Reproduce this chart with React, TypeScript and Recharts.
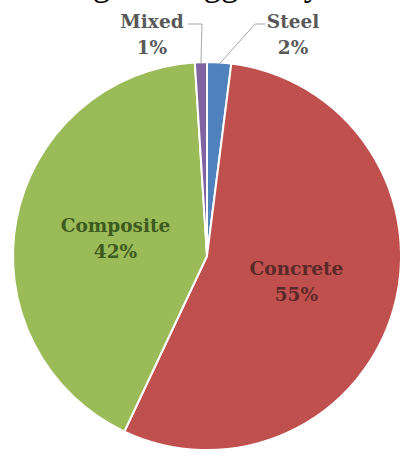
import { PieChart, Pie, Cell } from 'recharts'

document.body.style.margin = '0'

const materials = ['Steel', 'Concrete', 'Composite', 'Mixed']
const shares = [2, 55, 42, 1]
const colors = ['#4f81bd', '#c0504d', '#9bbb59', '#8064a2']
const labelColors = ['#595959', '#5a2a28', '#3d5a1f', '#595959']
const title = 'Tall Buildings of Biggest by Material'

const data = materials.map((name, i) => ({ name, value: shares[i] }))

const RADIAN = Math.PI / 180
const FONT = '"DejaVu Serif", serif'

// outside label placement: elbow offset from slice edge, then a short horizontal run
const outside: Record<string, { dx: number; run: number; gap: number }> = {
  Steel: { dx: 36, run: 10, gap: 28 },
  Mixed: { dx: 1, run: -14, gap: -36 },
}

function renderLabel(props: any) {
  const { cx, cy, midAngle, outerRadius, percent, name, index } = props
  const pct = `${Math.round(percent * 100)}%`
  const color = labelColors[index]
  const cos = Math.cos(-midAngle * RADIAN)
  const sin = Math.sin(-midAngle * RADIAN)
  const o = outside[name]
  if (!o) {
    const r = outerRadius * 0.48
    const x = cx + r * cos
    const y = cy + r * sin
    return (
      <text x={x} textAnchor="middle" fill={color} fontFamily={FONT} fontWeight="bold" fontSize={18.5}>
        <tspan x={x} y={y - 7}>{name}</tspan>
        <tspan x={x} y={y + 19}>{pct}</tspan>
      </text>
    )
  }
  const x0 = cx + (outerRadius - 2) * cos
  const y0 = cy + (outerRadius - 2) * sin
  const ey = cy - outerRadius - 38
  const ex = x0 + o.dx
  const hx = ex + o.run
  const tx = hx + o.gap
  return (
    <g>
      <polyline points={`${x0},${y0} ${ex},${ey} ${hx},${ey}`} fill="none" stroke="#a6a6a6" strokeWidth={1} />
      <text x={tx} textAnchor="middle" fill={color} fontFamily={FONT} fontWeight="bold" fontSize={18.5}>
        <tspan x={tx} y={ey + 4}>{name}</tspan>
        <tspan x={tx} y={ey + 30}>{pct}</tspan>
      </text>
    </g>
  )
}

export default function App() {
  return (
    <div style={{ position: 'relative', width: 400, height: 453, background: '#fff' }}>
      <svg width={400} height={453} style={{ position: 'absolute', left: 0, top: 0 }}>
        <text x={-75} y={-5} fontFamily='"Liberation Serif", serif' fontSize={35} fill="#000">
          {title}
        </text>
      </svg>
      <div style={{ position: 'absolute', left: 0, top: 0 }}>
        <PieChart width={400} height={453} margin={{ top: 0, right: 0, bottom: 0, left: 0 }}>
          <Pie
            data={data}
            dataKey="value"
            nameKey="name"
            cx={207}
            cy={256}
            outerRadius={194}
            startAngle={90}
            endAngle={-270}
            stroke="#fff"
            strokeWidth={2}
            label={renderLabel}
            labelLine={false}
            isAnimationActive={false}
          >
            {data.map((d, i) => (
              <Cell key={d.name} fill={colors[i]} />
            ))}
          </Pie>
        </PieChart>
      </div>
    </div>
  )
}
